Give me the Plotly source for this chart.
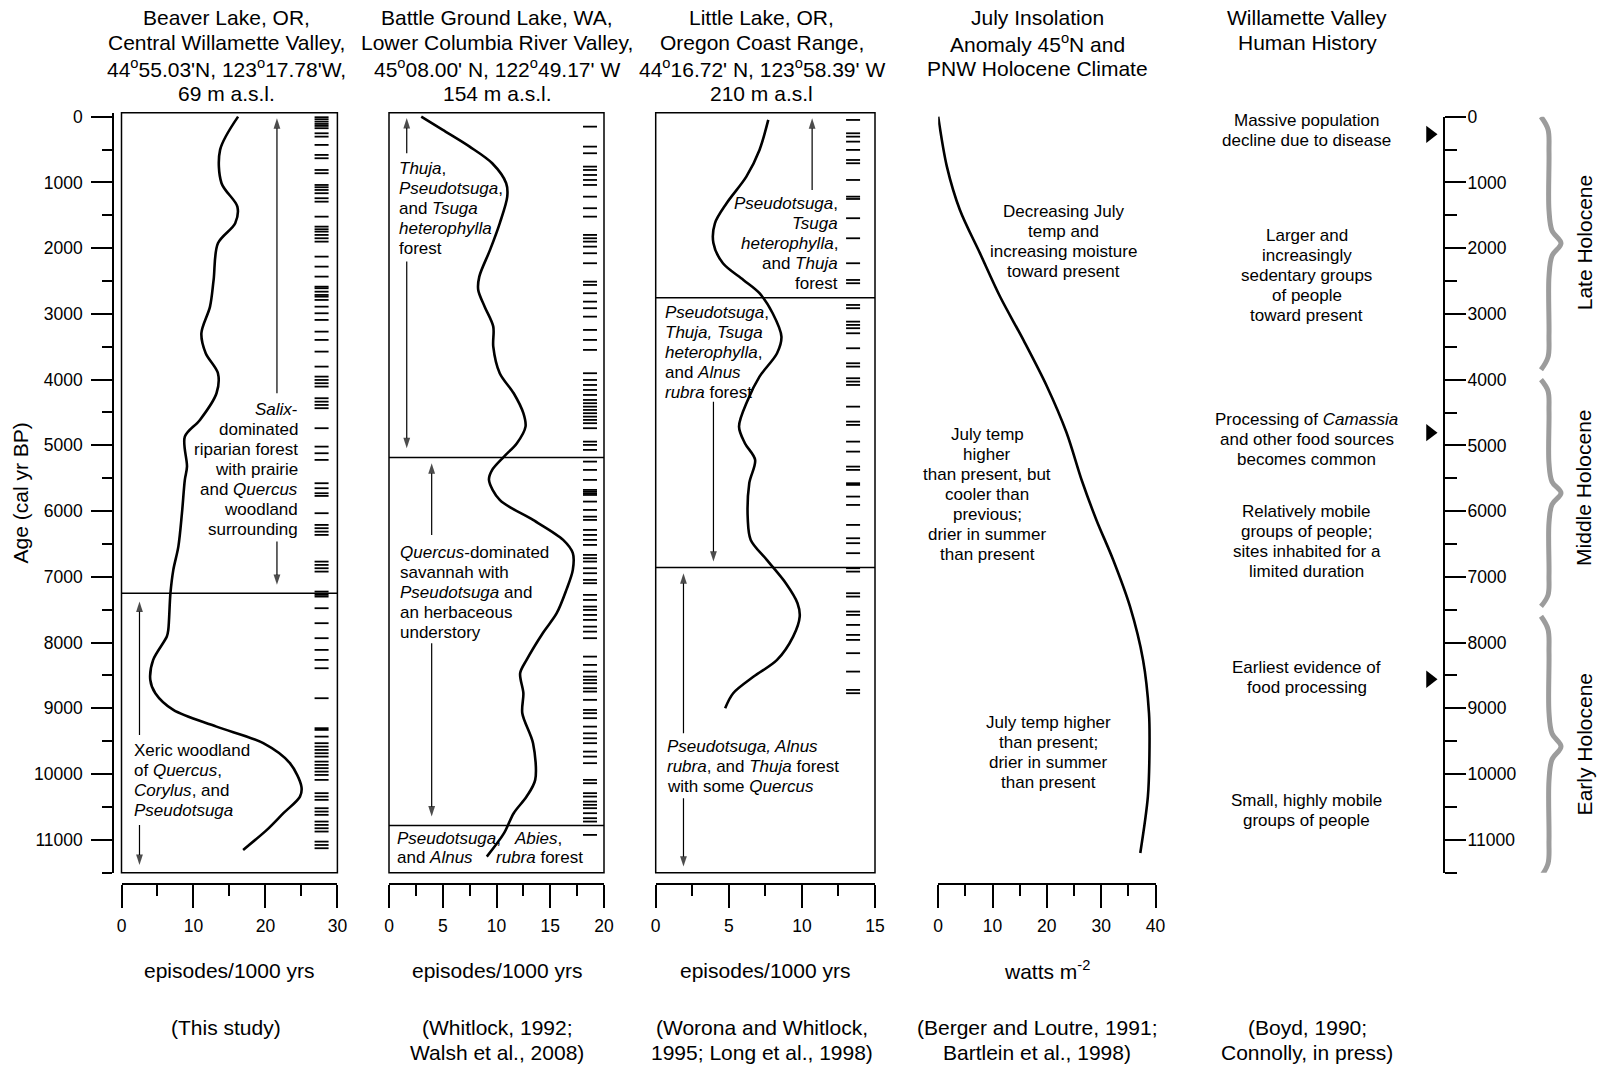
import plotly.graph_objects as go

W, H = 1599, 1069
FONT = "Liberation Sans, Arial, Helvetica, sans-serif"


def px(x):
    return x / W


def py(y):
    return 1 - y / H


# ---------------- data ----------------
beaver_age = [0, 506, 1013, 1369, 1622, 1926, 2484, 2890, 3295, 3599, 3903, 4207, 4613, 4867,
              5323, 5525, 6032, 6540, 6894, 7249, 7807, 7908, 8263, 8567, 8770, 9024, 9278,
              9530, 9834, 10190, 10342, 10595, 10849, 11153]
beaver_freq = [16.2, 13.7, 13.9, 16.1, 15.8, 13.4, 12.8, 12.3, 11.1, 11.7, 13.4, 13.2, 10.9, 8.8,
               9.1, 8.8, 8.4, 7.9, 7.2, 6.8, 6.5, 6.3, 4.4, 4.0, 4.7, 7.2, 13.2,
               19.7, 23.4, 25.0, 24.8, 22.5, 20.2, 16.9]

bg_age = [0, 202, 456, 709, 1013, 1217, 1622, 2027, 2433, 2636, 2890, 3194, 3498, 3903, 4207,
          4511, 4715, 4967, 5171, 5373, 5525, 5830, 6134, 6438, 6640, 6894, 7198, 7553, 7857,
          8263, 8466, 8770, 9074, 9530, 10088, 10342, 10595, 10899, 11255]
bg_freq = [3.0, 5.0, 7.5, 9.6, 10.9, 11.0, 10.3, 9.4, 8.4, 8.3, 8.9, 9.7, 9.7, 10.3, 11.6,
           12.5, 12.7, 11.9, 10.7, 9.6, 9.3, 10.3, 13.4, 16.2, 17.1, 17.1, 16.5, 15.6, 14.3,
           12.8, 12.2, 12.5, 12.4, 13.4, 13.6, 12.8, 11.6, 10.7, 9.1]

ll_age = [50, 506, 913, 1317, 1622, 1926, 2230, 2484, 2686, 2990, 3346, 3599, 3954, 4309, 4715,
          4967, 5221, 5576, 6134, 6438, 6742, 7097, 7401, 7605, 7909, 8263, 8517, 8770, 8998]
ll_freq = [7.7, 7.1, 6.2, 4.85, 4.05, 3.95, 4.6, 6.0, 7.1, 8.0, 8.6, 8.3, 7.1, 6.3, 5.7,
           6.1, 6.8, 6.4, 6.3, 6.5, 7.6, 8.9, 9.7, 9.85, 9.4, 8.3, 6.7, 5.3, 4.75]

ins_age = [0, 760, 1420, 2080, 2740, 3400, 4100, 4800, 5550, 6130, 6740, 7450, 8260, 9070,
           9580, 10340, 11200]
ins_val = [0, 1.6, 4.0, 7.7, 11.4, 15.7, 20.0, 23.6, 26.5, 29.1, 32.2, 35.3, 37.7, 38.8,
           38.9, 38.6, 37.2]

beaver_fires = [9, 40, 76, 111, 141, 176, 253, 304, 430, 582, 633, 811, 861, 1039, 1074, 1115,
                1165, 1241, 1293, 1521, 1673, 1713, 1749, 1799, 1850, 1901, 2129, 2281, 2433,
                2586, 2610, 2662, 2712, 2738, 2788, 2890, 2991, 3092, 3270, 3396, 3574, 3802,
                3954, 4005, 4055, 4106, 4283, 4335, 4385, 4435, 4739, 5019, 5120, 5221, 5576,
                5652, 5728, 5769, 6032, 6210, 6260, 6312, 6362, 6768, 6818, 6869, 6920, 7224,
                7274, 7300, 7477, 7705, 7933, 8111, 8263, 8390, 8846, 9302, 9328, 9430, 9530,
                9582, 9632, 9683, 9734, 9810, 9860, 9910, 9962, 10013, 10088, 10290, 10342,
                10392, 10519, 10570, 10620, 10722, 10773, 10824, 10874, 11027, 11078, 11128]
bg_fires = [152, 456, 557, 760, 811, 887, 963, 1039, 1217, 1393, 1521, 1799, 1850, 1901, 1977,
            2078, 2230, 2510, 2560, 2686, 2814, 2914, 3042, 3244, 3396, 3548, 3903, 4005, 4081,
            4157, 4233, 4309, 4359, 4411, 4461, 4511, 4563, 4613, 4663, 4739, 4943, 4993, 5069,
            5247, 5373, 5525, 5677, 5703, 5728, 5754, 5855, 5982, 6084, 6134, 6286, 6362, 6438,
            6514, 6666, 6717, 6768, 6869, 6945, 7046, 7097, 7274, 7351, 7452, 7503, 7579, 7655,
            7757, 7833, 7933, 8213, 8339, 8441, 8517, 8567, 8618, 8694, 8745, 8871, 9024, 9074,
            9150, 9278, 9380, 9456, 9530, 9658, 9734, 9834, 10088, 10139, 10290, 10342, 10418,
            10468, 10519, 10595, 10671, 10722, 10925]
ll_fires = [50, 253, 304, 380, 506, 659, 709, 963, 1217, 1252, 1545, 1850, 2230, 2484, 2534,
            2864, 2914, 3118, 3168, 3218, 3295, 3523, 3751, 3802, 3979, 4030, 4081, 4411, 4639,
            4689, 4943, 5095, 5323, 5373, 5576, 5601, 5779, 5906, 6210, 6413, 6488, 6640, 6869,
            6920, 7249, 7300, 7528, 7579, 7731, 7883, 7959, 8161, 8441, 8719, 8770]

# zone boundaries (cal yr BP)
beaver_zones = [7250]
bg_zones = [5186, 10783]
ll_zones = [2753, 6859]

# zone-extent arrows per panel: (x value, tail age, head age)
beaver_arrows = [(21.6, 4207, 25), (21.6, 6464, 7122), (2.5, 9404, 7376), (2.5, 10773, 11381)]
bg_arrows = [(1.65, 557, 20), (1.65, 2205, 5043), (3.97, 6362, 5272), (3.97, 8009, 10646)]
ll_arrows = [(10.7, 1115, 25), (3.95, 4335, 6768), (1.9, 9380, 6945), (1.9, 10367, 11407)]

# human history events (arrow markers) and Holocene subdivisions
event_years = [268, 4806, 8557]
holocene_names = ["Late Holocene", "Middle Holocene", "Early Holocene"]
holocene_spans = [(0, 3850), (4000, 7450), (7600, 11560)]
holocene_label_years = [1925, 5647, 9548]

titles = [
    ["Beaver Lake, OR,", "Central Willamette Valley,",
     "44<sup>o</sup>55.03'N, 123<sup>o</sup>17.78'W,", "69 m a.s.l."],
    ["Battle Ground Lake, WA,", "Lower Columbia River Valley,",
     "45<sup>o</sup>08.00' N, 122<sup>o</sup>49.17' W", "154 m a.s.l."],
    ["Little Lake, OR,", "Oregon Coast Range,",
     "44<sup>o</sup>16.72' N, 123<sup>o</sup>58.39' W", "210 m a.s.l"],
    ["July Insolation", "Anomaly 45<sup>o</sup>N and", "PNW Holocene Climate"],
    ["Willamette Valley", "Human History"],
]
sources = [
    ["(This study)"],
    ["(Whitlock, 1992;", "Walsh et al., 2008)"],
    ["(Worona and Whitlock,", "1995; Long et al., 1998)"],
    ["(Berger and Loutre, 1991;", "Bartlein et al., 1998)"],
    ["(Boyd, 1990;", "Connolly, in press)"],
]
xtitles = ["episodes/1000 yrs", "episodes/1000 yrs", "episodes/1000 yrs", "watts m<sup>-2</sup>"]

# ---------------- layout geometry (window pixels) ----------------
col_centers = [226, 497, 761.5, 1037, 1307]
panel_px = [(121.5, 337.4), (389, 604), (655.7, 875), (938.2, 1155.5)]
xranges = [30, 20, 15, 40]
xdticks = [10, 5, 5, 10]
Y_TOP, Y_BOT = 112.7, 872.7
YR = [11500, -60]

fig = go.Figure()

tickfont = dict(size=17.5, family=FONT, color="black")
axis_common = dict(showgrid=False, zeroline=False, showline=True, linecolor="black",
                   linewidth=1.5, ticks="outside", tickwidth=1.5, tickcolor="black",
                   tickfont=tickfont, tickformat="d", automargin=False)

layout_axes = {}
for i, ((l, r), xr, dt) in enumerate(zip(panel_px, xranges, xdticks)):
    n = "" if i == 0 else str(i + 1)
    layout_axes["xaxis" + n] = dict(
        domain=[px(l), px(r)], range=[0, xr], anchor="free", position=py(884),
        tick0=0, dtick=dt, ticklen=23, ticklabelstandoff=3,
        minor=dict(dtick=dt / 2, ticklen=11, ticks="outside", tickwidth=1.5,
                   tickcolor="black", showgrid=False),
        **axis_common)
    if i == 0:
        layout_axes["yaxis"] = dict(
            domain=[py(Y_BOT), py(Y_TOP)], range=YR, anchor="free", position=px(113),
            side="left", tick0=0, dtick=1000, ticklen=21, ticklabelstandoff=5,
            minor=dict(dtick=500, ticklen=10, ticks="outside", tickwidth=1.5,
                       tickcolor="black", showgrid=False),
            **axis_common)
    else:
        layout_axes["yaxis" + n] = dict(domain=[py(Y_BOT), py(Y_TOP)], range=YR,
                                        anchor="x" + n, visible=False)

layout_axes["xaxis5"] = dict(domain=[px(1180), 1.0], range=[1180, W], anchor="y5",
                             visible=False)
layout_axes["yaxis5"] = dict(
    domain=[py(Y_BOT), py(116.7)], range=[11500, 0], anchor="free", position=px(1444.3),
    side="right", tick0=0, dtick=1000, ticklen=21, ticklabelstandoff=-2,
    minor=dict(dtick=500, ticklen=12, ticks="outside", tickwidth=1.5, tickcolor="black",
               showgrid=False),
    **axis_common)

# ---------------- traces ----------------
curves = [(beaver_freq, beaver_age), (bg_freq, bg_age), (ll_freq, ll_age), (ins_val, ins_age)]
for i, (xv, yv) in enumerate(curves):
    n = "" if i == 0 else str(i + 1)
    fig.add_trace(go.Scatter(x=xv, y=yv, mode="lines",
                             line=dict(color="black", width=2.6, shape="spline", smoothing=0.9),
                             xaxis="x" + n, yaxis="y" + n, hoverinfo="skip"))

fire_sets = [beaver_fires, bg_fires, ll_fires]
fire_xpos = [27.8, 18.7, 13.5]
for i, (fires, fx) in enumerate(zip(fire_sets, fire_xpos)):
    n = "" if i == 0 else str(i + 1)
    fig.add_trace(go.Scatter(x=[fx] * len(fires), y=fires, mode="markers",
                             marker=dict(symbol="line-ew", size=10,
                                         line=dict(width=1.8, color="black")),
                             xaxis="x" + n, yaxis="y" + n, hoverinfo="skip", cliponaxis=False))

# zone-extent arrows (line with an arrowhead marker at the head end)
for i, arrows in enumerate([beaver_arrows, bg_arrows, ll_arrows]):
    n = "" if i == 0 else str(i + 1)
    for (xv, tail, head) in arrows:
        fig.add_trace(go.Scatter(
            x=[xv, xv], y=[tail, head], mode="lines+markers",
            line=dict(color="black", width=1.2),
            marker=dict(symbol="arrow", angleref="previous", size=[0, 11], color="black",
                        line=dict(width=0)),
            xaxis="x" + n, yaxis="y" + n, hoverinfo="skip", cliponaxis=False))

# event arrowheads
fig.add_trace(go.Scatter(x=[1430] * len(event_years), y=event_years, mode="markers",
                         marker=dict(symbol="triangle-right", size=15, color="black"),
                         xaxis="x5", yaxis="y5", hoverinfo="skip"))


# Holocene braces
def brace(y0, y1, xe=1541, xm=1549, xt=1561):
    h = y1 - y0
    m = (y0 + y1) / 2
    xs = [xe, xm - 1, xm, xm, xm + 3, xt, xm + 3, xm, xm, xm - 1, xe]
    ys = [y0, y0 + 0.05 * h, y0 + 0.14 * h, m - 0.13 * h, m - 0.05 * h, m,
          m + 0.05 * h, m + 0.13 * h, y1 - 0.14 * h, y1 - 0.05 * h, y1]
    return xs, ys


for (a, b) in holocene_spans:
    bx, by = brace(a, b)
    fig.add_trace(go.Scatter(x=bx, y=by, mode="lines",
                             line=dict(color="#9c9c9c", width=5, shape="spline", smoothing=1.0),
                             xaxis="x5", yaxis="y5", hoverinfo="skip"))

# ---------------- shapes ----------------
for i in range(3):
    n = "" if i == 0 else str(i + 1)
    fig.add_shape(type="rect", xref="x%s domain" % n, yref="y%s domain" % n,
                  x0=0, x1=1, y0=0, y1=1, line=dict(color="black", width=1.5))
for i, zones in enumerate([beaver_zones, bg_zones, ll_zones]):
    n = "" if i == 0 else str(i + 1)
    for z in zones:
        fig.add_shape(type="line", xref="x%s domain" % n, yref="y" + n, x0=0, x1=1,
                      y0=z, y1=z, line=dict(color="black", width=1.5))


# ---------------- text ----------------
def yrs(pix):
    # window pixel row -> years on the shared age scale
    return (pix - 116.7) * 1000 / 65.75


def text_block(lines, x, y, xref, yref, xanchor="center", spacing=20, size=17, angle=0):
    nl = len(lines)
    for k, t in enumerate(lines):
        fig.add_annotation(text=t, x=x, y=y, xref=xref, yref=yref, xanchor=xanchor,
                           yanchor="middle", yshift=-(k - (nl - 1) / 2) * spacing,
                           showarrow=False, textangle=angle,
                           font=dict(size=size, family=FONT, color="black"))


# column titles and sources
for c, tl in zip(col_centers, titles):
    for k, t in enumerate(tl):
        fig.add_annotation(text=t, x=px(c), y=py(17.3 + 25.5 * k), xref="paper", yref="paper",
                           showarrow=False, xanchor="center", yanchor="middle",
                           font=dict(size=21, family=FONT, color="black"))
for c, sl in zip(col_centers, sources):
    for k, t in enumerate(sl):
        fig.add_annotation(text=t, x=px(c), y=py(1027 + 25.5 * k), xref="paper", yref="paper",
                           showarrow=False, xanchor="center", yanchor="middle",
                           font=dict(size=21, family=FONT, color="black"))
for i, t in enumerate(xtitles):
    n = "" if i == 0 else str(i + 1)
    fig.add_annotation(text=t, x=0.5, y=py(970), xref="x%s domain" % n, yref="paper",
                       showarrow=False, xanchor="center", yanchor="middle",
                       font=dict(size=21, family=FONT, color="black"))
fig.add_annotation(text="Age (cal yr BP)", x=px(20.4), y=py(493), xref="paper", yref="paper",
                   showarrow=False, textangle=-90, xanchor="center", yanchor="middle",
                   font=dict(size=21, family=FONT, color="black"))

# Panel 1
text_block(["<i>Salix</i>-", "dominated", "riparian forest", "with prairie",
            "and <i>Quercus</i>", "woodland", "surrounding"],
           24.8, yrs(469.2), "x", "y", xanchor="right")
text_block(["Xeric woodland", "of <i>Quercus</i>,", "<i>Corylus</i>, and", "<i>Pseudotsuga</i>"],
           1.4, yrs(780.9), "x", "y", xanchor="left")

# Panel 2
text_block(["<i>Thuja</i>,", "<i>Pseudotsuga</i>,", "and <i>Tsuga</i>", "<i>heterophylla</i>",
            "forest"], 0.72, yrs(208.3), "x2", "y2", xanchor="left")
text_block(["<i>Quercus</i>-dominated", "savannah with", "<i>Pseudotsuga</i> and",
            "an herbaceous", "understory"], 0.87, yrs(592.5), "x2", "y2", xanchor="left")
text_block(["<i>Pseudotsuga</i>,", "and <i>Alnus</i>"], 0.56, yrs(847.8), "x2", "y2",
           xanchor="left", spacing=19)
text_block(["<i>Abies</i>,"], 11.44, yrs(838.3), "x2", "y2", xanchor="left")
text_block(["<i>rubra</i> forest"], 9.73, yrs(857.3), "x2", "y2", xanchor="left")

# Panel 3
text_block(["<i>Pseudotsuga</i>,", "<i>Tsuga</i>", "<i>heterophylla</i>,", "and <i>Thuja</i>",
            "forest"], 12.6, yrs(243.3), "x3", "y3", xanchor="right")
text_block(["<i>Pseudotsuga</i>,", "<i>Thuja, Tsuga</i>", "<i>heterophylla</i>,",
            "and <i>Alnus</i>", "<i>rubra</i> forest"], 0.48, yrs(352.2), "x3", "y3",
           xanchor="left")
text_block(["<i>Pseudotsuga, Alnus</i>", "<i>rubra</i>, and <i>Thuja</i> forest",
            "with some <i>Quercus</i>"], 0.64, yrs(767), "x3", "y3", xanchor="left")

# Panel 4
text_block(["Decreasing July", "temp and", "increasing moisture", "toward present"],
           23.0, yrs(241.7), "x4", "y4")
text_block(["July temp", "higher", "than present, but", "cooler than", "previous;",
            "drier in summer", "than present"], 9.0, yrs(494.2), "x4", "y4")
text_block(["July temp higher", "than present;", "drier in summer", "than present"],
           20.3, yrs(752.2), "x4", "y4")

# Panel 5 (human history)
hist_blocks = [
    (["Massive population", "decline due to disease"], 216),
    (["Larger and", "increasingly", "sedentary groups", "of people", "toward present"], 2408),
    (["Processing of <i>Camassia</i>", "and other food sources", "becomes common"], 4905),
    (["Relatively mobile", "groups of people;", "sites inhabited for a", "limited duration"], 6468),
    (["Earliest evidence of", "food processing"], 8537),
    (["Small, highly mobile", "groups of people"], 10560),
]
for lines, yv in hist_blocks:
    text_block(lines, 1306.7, yv, "x5", "y5")

for name, yv in zip(holocene_names, holocene_label_years):
    fig.add_annotation(text=name, x=1584, y=yv, xref="x5", yref="y5", showarrow=False,
                       textangle=-90, xanchor="center", yanchor="middle",
                       font=dict(size=21, family=FONT, color="black"))

fig.update_layout(
    width=W, height=H, margin=dict(l=0, r=0, t=0, b=0, pad=0, autoexpand=False),
    paper_bgcolor="white", plot_bgcolor="white", showlegend=False, hovermode=False,
    font=dict(family=FONT, color="black"),
    **layout_axes,
)

fig.write_html(
    "out.html", config={"displayModeBar": False},
    post_script="document.body.style.margin='0';document.body.style.padding='0';"
                "document.documentElement.style.overflow='hidden';",
)
